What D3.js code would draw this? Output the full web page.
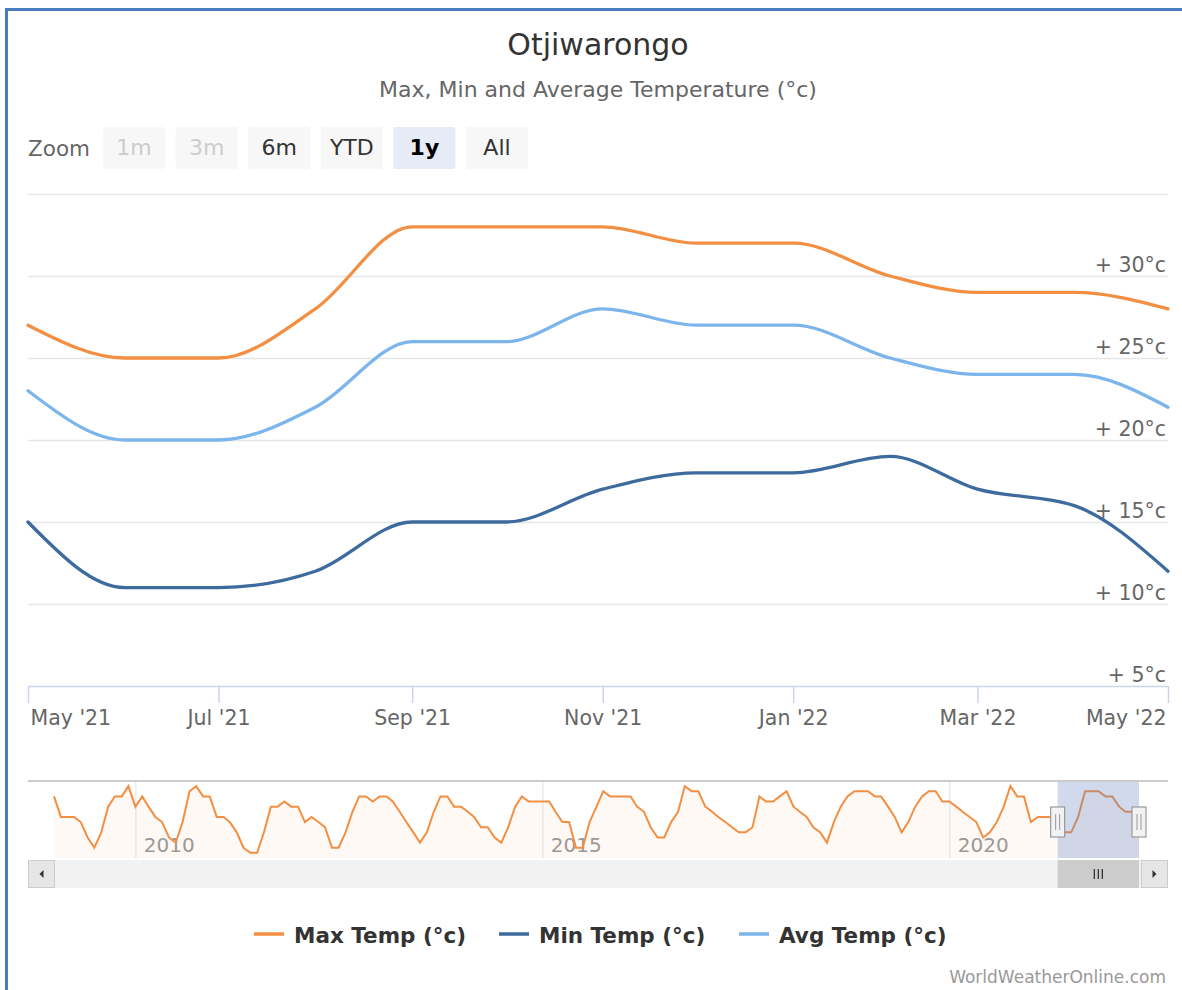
<!DOCTYPE html>
<html><head><meta charset="utf-8">
<script src="https://cdn.jsdelivr.net/npm/d3@7"></script>
<style>
body{margin:0;background:#fff;}
svg{display:block;font-family:"DejaVu Sans",Arial,sans-serif;}
</style></head><body>
<svg id="c" width="1182" height="990"></svg>
<script>
// ---------- data ----------
const months = ["2021-05-01","2021-06-01","2021-07-01","2021-08-01","2021-09-01","2021-10-01","2021-11-01","2021-12-01","2022-01-01","2022-02-01","2022-03-01","2022-04-01","2022-05-01"];
const maxTemp = [27,25,25,28,33,33,33,32,32,30,29,29,28];
const minTemp = [15,11,11,12,15,15,17,18,18,19,17,16,12];
const avgTemp = [23,20,20,22,26,26,28,27,27,25,24,24,22];
const seriesNames = ["Max Temp (°c)","Min Temp (°c)","Avg Temp (°c)"];
const seriesColors = ["#f28f43","#3d6b9e","#7cb5ec"];
const yTicks = [5,10,15,20,25,30,35];
const xTickDates = ["2021-05-01","2021-07-01","2021-09-01","2021-11-01","2022-01-01","2022-03-01","2022-05-01"];
const xTickLabels = ["May '21","Jul '21","Sep '21","Nov '21","Jan '22","Mar '22","May '22"];
const zoomButtons = ["1m","3m","6m","YTD","1y","All"];
const zoomState = ["disabled","disabled","normal","normal","selected","normal"];
// navigator: monthly max temp from Jan 2009 to May 2022
const navStart = "2009-01-01";
const navMaxTemp = [
 32,28,28,28,27,24,22,25,30,32,32,34,
 30,32,30,28,27,24,23,27,33,34,32,32,
 28,28,27,25,22,21,21,25,30,30,31,30,
 30,27,28,27,26,22,22,25,29,32,32,31,
 32,32,31,29,27,25,23,25,29,32,32,30,
 30,29,28,26,26,24,23,26,30,32,31,31,
 31,31,29,27,27,22,22,27,30,33,32,32,
 32,32,30,29,26,24,24,27,29,34,33,33,
 30,29,28,27,26,25,25,26,32,31,31,32,
 33,30,29,28,26,25,23,27,30,32,33,33,
 33,32,32,30,28,25,27,30,32,33,33,31,
 31,30,29,28,27,24,25,27,30,34,32,32,
 27,28,28,28,27,25,25,28,33,33,33,32,
 32,30,29,29,28];
const navYearTicks = ["2010","2015","2020"];
const navRange = ["2021-05-01","2022-05-01"];

// ---------- layout ----------
const svg = d3.select("#c");
const L = 28, R = 1168, T = 194, B = 686;
const parse = d3.timeParse("%Y-%m-%d");
const FONT = '"DejaVu Sans",Arial,sans-serif';

// frame (left and top edges visible)
svg.append("rect").attr("x",6.5).attr("y",9.5).attr("width",1190).attr("height",1000)
  .attr("fill","none").attr("stroke","#4a7cc0").attr("stroke-width",3);

// title
svg.append("text").attr("x",598).attr("y",55).attr("text-anchor","middle")
  .attr("font-size",30).attr("fill","#333").text("Otjiwarongo");
svg.append("text").attr("x",598).attr("y",97).attr("text-anchor","middle")
  .attr("font-size",22).attr("fill","#666").text("Max, Min and Average Temperature (°c)");

// zoom buttons
svg.append("text").attr("x",28).attr("y",156).attr("font-size",21.5).attr("fill","#666").text("Zoom");
const bx = d3.scalePoint().domain(zoomButtons).range([103,466]);
const btn = svg.append("g").selectAll("g").data(zoomButtons).join("g")
  .attr("transform",d=>`translate(${bx(d)},127)`);
btn.append("rect").attr("width",62).attr("height",42).attr("rx",3)
  .attr("fill",(d,i)=>zoomState[i]==="selected"?"#e6ebf5":"#f7f7f7");
btn.append("text").attr("x",31).attr("y",28).attr("text-anchor","middle").attr("font-size",22)
  .attr("font-weight",(d,i)=>zoomState[i]==="selected"?"bold":"normal")
  .attr("fill",(d,i)=>zoomState[i]==="disabled"?"#cccccc":(zoomState[i]==="selected"?"#000":"#333"))
  .text(d=>d);

// scales
const x = d3.scaleTime().domain([parse(months[0]), parse(months[months.length-1])]).range([L,R]);
const y = d3.scaleLinear().domain([5,35]).range([B,T]);

// grid
svg.append("g").attr("transform",`translate(${L},0)`)
  .call(d3.axisLeft(y).tickValues(yTicks.slice(1)).tickSize(-(R-L)).tickFormat(""))
  .call(g=>g.select(".domain").remove())
  .call(g=>g.selectAll("line").attr("stroke","#e6e6e6").attr("stroke-width",1.3));

// y labels
svg.append("g").attr("transform",`translate(${R-2},0)`)
  .call(d3.axisRight(y).tickValues(yTicks.slice(0,-1)).tickSize(0).tickFormat(d=>`+ ${d}°c`))
  .call(g=>g.select(".domain").remove())
  .call(g=>g.selectAll("text").attr("x",0).attr("dy",-5).attr("text-anchor","end")
    .attr("font-size",20.5).attr("fill","#666").attr("font-family",FONT));

// x axis
const xa = svg.append("g").attr("transform",`translate(0,${B})`)
  .call(d3.axisBottom(x).tickValues(xTickDates.map(parse)).tickSize(17).tickSizeOuter(0)
    .tickFormat((d,i)=>xTickLabels[i]));
xa.select(".domain").attr("stroke","#ccd6eb").attr("stroke-width",1.5);
xa.selectAll("line").attr("stroke","#ccd6eb").attr("stroke-width",1.5);
xa.selectAll("text").attr("y",39).attr("dy",0).attr("font-size",20.5).attr("fill","#666")
  .attr("font-family",FONT)
  .attr("text-anchor",(d,i)=> i===0?"start":(i===xTickDates.length-1?"end":"middle"))
  .attr("dx",(d,i)=> i===0?2:(i===xTickDates.length-1?-2:0));

// series
const seriesData = [maxTemp, minTemp, avgTemp];
const line = d3.line().x((d,i)=>x(parse(months[i]))).y(d=>y(d)).curve(d3.curveMonotoneX);
svg.append("g").selectAll("path").data(seriesData).join("path")
  .attr("d",line).attr("fill","none").attr("stroke",(d,i)=>seriesColors[i])
  .attr("stroke-width",3.3).attr("stroke-linejoin","round").attr("stroke-linecap","round");

// ---------- navigator ----------
const NT = 781, NB = 858, NL = 54, NR = 1139;
const nStart = parse(navStart);
const navDates = navMaxTemp.map((v,i)=>d3.timeMonth.offset(nStart,i));
const nx = d3.scaleTime().domain([nStart, navDates[navDates.length-1]]).range([NL,NR]);
const ny = d3.scaleLinear().domain([20,35]).range([NB,NT]);

// year grid
const yearDates = navYearTicks.map(s=>parse(s+"-01-01"));
svg.append("g").attr("transform",`translate(0,${NT})`)
  .call(d3.axisBottom(nx).tickValues(yearDates).tickSize(NB-NT).tickSizeOuter(0).tickFormat((d,i)=>navYearTicks[i]))
  .call(g=>g.select(".domain").remove())
  .call(g=>g.selectAll("line").attr("stroke","#e6e6e6").attr("stroke-width",1.2))
  .call(g=>g.selectAll("text").attr("y",71).attr("dy",0).attr("x",8).attr("text-anchor","start")
     .attr("font-size",20).attr("fill","#999").attr("font-family",FONT));

// area + line
svg.append("path").datum(navMaxTemp)
  .attr("d",d3.area().x((d,i)=>nx(navDates[i])).y0(NB).y1(d=>ny(d)))
  .attr("fill","#f28f43").attr("fill-opacity",0.05);
svg.append("path").datum(navMaxTemp)
  .attr("d",d3.line().x((d,i)=>nx(navDates[i])).y(d=>ny(d)))
  .attr("fill","none").attr("stroke","#f28f43").attr("stroke-width",2);

// selection mask
const sx0 = nx(parse(navRange[0])), sx1 = nx(parse(navRange[1]));
svg.append("rect").attr("x",sx0).attr("y",NT).attr("width",sx1-sx0).attr("height",NB-NT)
  .attr("fill","rgb(102,133,194)").attr("fill-opacity",0.3);

// top outline
svg.append("line").attr("x1",L).attr("x2",R).attr("y1",NT).attr("y2",NT)
  .attr("stroke","#cccccc").attr("stroke-width",2);

// handles
[sx0,sx1].forEach(hx=>{
  const g = svg.append("g").attr("transform",`translate(${hx},822)`);
  g.append("rect").attr("x",-7).attr("y",-15).attr("width",14).attr("height",30)
    .attr("fill","#f2f2f2").attr("stroke","#999").attr("stroke-width",1.2);
  g.append("line").attr("x1",-2).attr("x2",-2).attr("y1",-8).attr("y2",8).attr("stroke","#999");
  g.append("line").attr("x1",2).attr("x2",2).attr("y1",-8).attr("y2",8).attr("stroke","#999");
});

// scrollbar
const ST = 860, SH = 28;
svg.append("rect").attr("x",L).attr("y",ST).attr("width",R-L).attr("height",SH).attr("fill","#f2f2f2");
svg.append("rect").attr("x",sx0).attr("y",ST).attr("width",sx1-sx0).attr("height",SH).attr("fill","#cccccc");
[0,1,2].forEach(k=>{
  svg.append("line").attr("x1",sx0+(sx1-sx0)/2-4+k*4).attr("x2",sx0+(sx1-sx0)/2-4+k*4)
    .attr("y1",ST+9).attr("y2",ST+19).attr("stroke","#333").attr("stroke-width",1.3);
});
[[L,0],[R-27,1]].forEach(([bxx,dir])=>{
  svg.append("rect").attr("x",bxx+0.5).attr("y",ST+0.5).attr("width",26).attr("height",SH-1)
    .attr("fill","#e6e6e6").attr("stroke","#cccccc");
  const cx = bxx+13.5, cy = ST+14;
  const p = dir===0 ? `M${cx+2},${cy-4}L${cx-2},${cy}L${cx+2},${cy+4}Z` : `M${cx-2},${cy-4}L${cx+2},${cy}L${cx-2},${cy+4}Z`;
  svg.append("path").attr("d",p).attr("fill","#333");
});

// ---------- legend ----------
const legX = [254, 499, 739];
const lg = svg.append("g").selectAll("g").data(seriesNames).join("g")
  .attr("transform",(d,i)=>`translate(${legX[i]},934)`);
lg.append("line").attr("x1",0).attr("x2",30).attr("stroke",(d,i)=>seriesColors[i]).attr("stroke-width",3.5);
lg.append("text").attr("x",40).attr("y",9).attr("font-size",21.5).attr("font-weight","bold")
  .attr("fill","#333").text(d=>d);

// credits
svg.append("text").attr("x",1166).attr("y",983).attr("text-anchor","end").attr("font-size",17)
  .attr("fill","#999").text("WorldWeatherOnline.com");
</script>
</body></html>
